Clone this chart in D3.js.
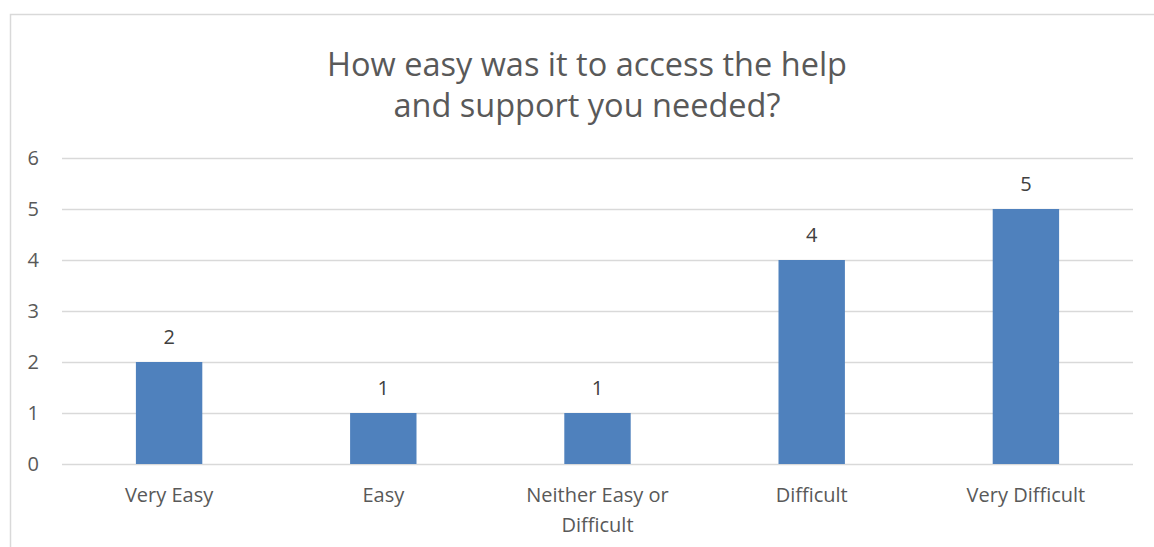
<!DOCTYPE html>
<html>
<head>
<meta charset="utf-8">
<script src="https://cdn.jsdelivr.net/npm/d3@7"></script>
<style>
  body { margin: 0; background: #fff; }
  svg { display: block; font-family: "Open Sans", sans-serif; }
</style>
</head>
<body>
<svg id="chart" width="1154" height="547"></svg>
<script>
// data
var categories = ["Very Easy", "Easy", "Neither Easy or Difficult", "Difficult", "Very Difficult"];
var counts = [2, 1, 1, 4, 5];
var yTicks = [0, 1, 2, 3, 4, 5, 6];
var titleLines = ["How easy was it to access the help", "and support you needed?"];

var width = 1154, height = 547;
var margin = { left: 62, right: 21, top: 158, bottom: 83 };
var labelSize = "20px";

var svg = d3.select("#chart");

// chart frame (bottom / right fall outside the crop)
svg.append("rect")
    .attr("x", 10.5).attr("y", 14.5)
    .attr("width", 1200).attr("height", 600)
    .attr("fill", "#fff")
    .attr("stroke", "#d9d9d9")
    .attr("stroke-width", 1.5);

var x = d3.scaleBand()
    .domain(categories)
    .range([margin.left, width - margin.right])
    .paddingInner(0.69)
    .paddingOuter(0.345);

var y = d3.scaleLinear()
    .domain([0, 6])
    .range([height - margin.bottom, margin.top]);

// title
svg.append("text")
    .attr("x", 587).attr("y", 76)
    .attr("text-anchor", "middle")
    .attr("fill", "#595959")
    .style("font-size", "32.5px")
    .selectAll("tspan")
    .data(titleLines)
    .enter().append("tspan")
    .attr("x", 587)
    .attr("dy", function(d, i) { return i == 0 ? 0 : 41; })
    .text(function(d) { return d; });

// gridlines
svg.append("g")
    .selectAll("line")
    .data(yTicks)
    .enter().append("line")
    .attr("x1", margin.left)
    .attr("x2", width - margin.right)
    .attr("y1", function(d) { return y(d) + 0.5; })
    .attr("y2", function(d) { return y(d) + 0.5; })
    .attr("stroke", "#d9d9d9")
    .attr("stroke-width", 1.5);

// y axis labels
var yAxis = d3.axisLeft(y).tickValues(yTicks).tickFormat(d3.format("d")).tickSize(0).tickPadding(0);
svg.append("g")
    .attr("transform", "translate(39,0)")
    .call(yAxis)
    .call(function(g) { g.select(".domain").remove(); })
    .selectAll("text")
    .attr("fill", "#595959")
    .style("font-family", "Open Sans")
    .style("font-size", labelSize);

// bars
svg.append("g")
    .selectAll("rect")
    .data(counts)
    .enter().append("rect")
    .attr("x", function(d, i) { return x(categories[i]); })
    .attr("y", function(d) { return y(d); })
    .attr("width", x.bandwidth())
    .attr("height", function(d) { return y(0) - y(d); })
    .attr("fill", "#4f81bd");

// value labels
svg.append("g")
    .selectAll("text")
    .data(counts)
    .enter().append("text")
    .attr("x", function(d, i) { return x(categories[i]) + x.bandwidth() / 2; })
    .attr("y", function(d) { return y(d) - 18; })
    .attr("text-anchor", "middle")
    .attr("fill", "#404040")
    .style("font-size", labelSize)
    .text(function(d) { return d; });

// x labels, wrapped like the original
var xAxis = d3.axisBottom(x).tickSize(0).tickPadding(0);
var xg = svg.append("g")
    .attr("transform", "translate(0," + y(0) + ")")
    .call(xAxis);
xg.select(".domain").remove();
xg.selectAll("text")
    .attr("fill", "#595959")
    .style("font-family", "Open Sans")
    .style("font-size", labelSize)
    .attr("dy", null)
    .attr("y", 38)
    .each(function(d) { wrap(d3.select(this), d, 180); });

function wrap(text, label, maxW) {
    var words = label.split(" ");
    var lines = [];
    var line = [];
    text.text(null);
    var probe = text.append("tspan").attr("x", 0);
    words.forEach(function(w) {
        line.push(w);
        probe.text(line.join(" "));
        if (probe.node().getComputedTextLength() > maxW && line.length > 1) {
            line.pop();
            lines.push(line.join(" "));
            line = [w];
        }
    });
    lines.push(line.join(" "));
    probe.remove();
    lines.forEach(function(l, i) {
        text.append("tspan")
            .attr("x", 0)
            .attr("y", 38 + i * 30)
            .text(l);
    });
}
</script>
</body>
</html>
